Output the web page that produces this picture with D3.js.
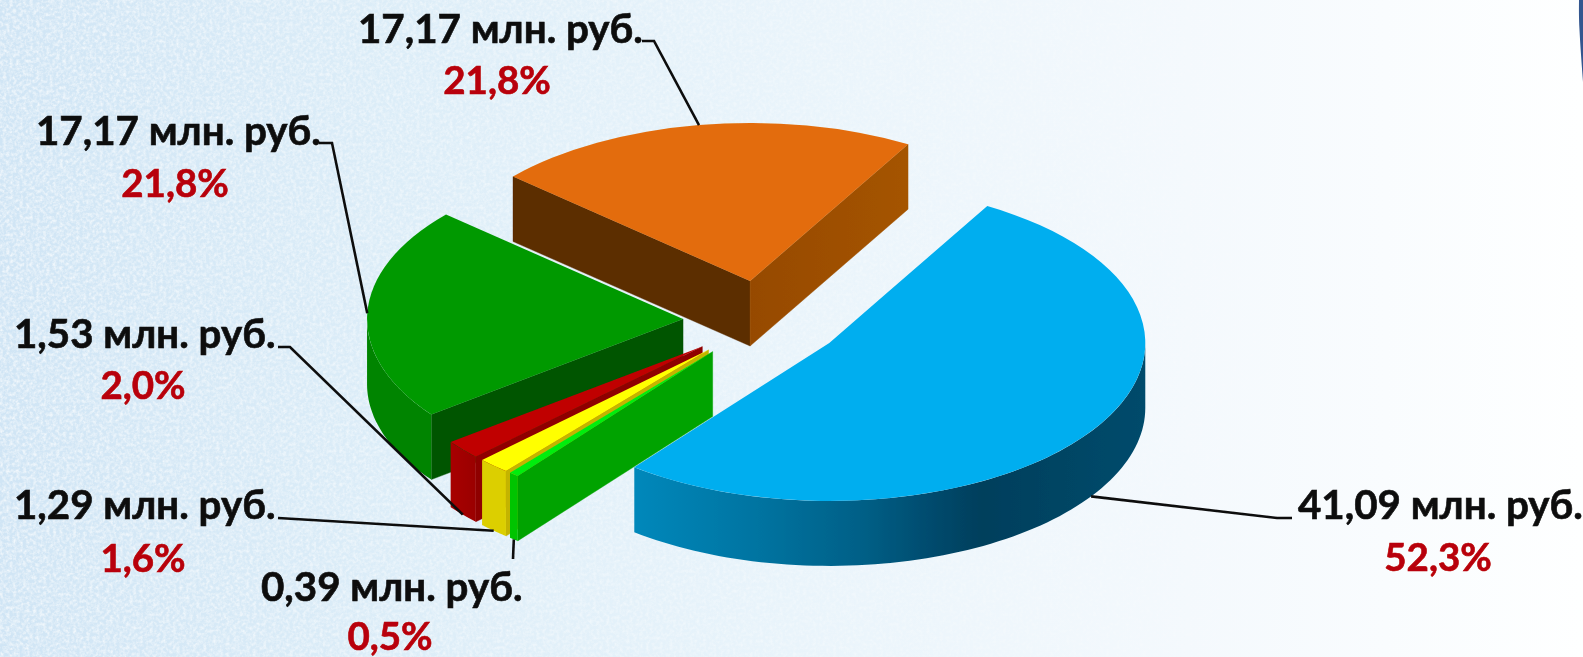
<!DOCTYPE html>
<html><head><meta charset="utf-8">
<script src="https://cdn.jsdelivr.net/npm/d3@7"></script>
<style>html,body{margin:0;padding:0;background:#fff;overflow:hidden}svg{display:block}text{font-family:Lato,"Open Sans","Noto Sans",sans-serif;font-weight:700}</style>
</head><body><div id="c"></div>
<script>
// ---- data ----
const moneyLabels = ["41,09 млн. руб.","0,39 млн. руб.","1,29 млн. руб.","1,53 млн. руб.","17,17 млн. руб.","17,17 млн. руб."];
const percentLabels = ["52,3%","0,5%","1,6%","2,0%","21,8%","21,8%"];
const values = [41.09,0.39,1.29,1.53,17.17,17.17];
// ---- styles ----
const topColors  = ["#00aeef","#00ee10","#ffff00","#c00000","#009900","#e36c09"];
const rimColors  = ["url(#blueRim)","#00c400","#dccf00","url(#redRim)","#008400","#9d4f02"];
const wallColors = ["#004060","#00a300","#c4b400","#8f0000","#005400","#5c2d00"];
const endWallColors = ["#004060","#00a300","#c4b400","#8f0000","#005400","url(#orangeWall)"];
// ---- layout of labels ----
const labelLayout = [
 {mx:1298,my:519,px:1438,py:571,elbow:[[1292,518],[1277,518]]},
 {mx:261,my:601,px:390,py:650,elbow:[[513,559]]},
 {mx:14,my:519,px:143,py:572,elbow:[[278,518]]},
 {mx:14,my:348,px:143,py:399,elbow:[[278,347],[290,347]]},
 {mx:36,my:145,px:175,py:197,elbow:[[319,143],[332,143]]},
 {mx:358,my:43,px:497,py:94,elbow:[[642,41],[654,41]]}
];
const W=1583,H=657, CX=763, CY=320.5, RX=316, TILT=0.5, DEPTH=65, EXPLODE=80, FONT=40.3, PFONT=38.5;

const svg=d3.select("#c").append("svg").attr("width",W).attr("height",H);
const defs=svg.append("defs");
function grad(id,x1,x2,stops){
  const g=defs.append("linearGradient").attr("id",id).attr("gradientUnits","userSpaceOnUse")
    .attr("x1",x1).attr("x2",x2).attr("y1",0).attr("y2",0);
  stops.forEach(s=>g.append("stop").attr("offset",s[0]).attr("stop-color",s[1]));
}
grad("bg",0,W,[[0,"#d0e5f5"],[0.25,"#dcedf8"],[0.5,"#e9f4fb"],[0.75,"#f4f9fd"],[1,"#feffff"]]);
grad("blueRim",634,1146,[[0,"#0088bb"],[0.25,"#0073a0"],[0.45,"#005f86"],[0.6,"#00486a"],[0.68,"#003f5c"],[1,"#004b6c"]]);
grad("redRim",450,480,[[0,"#a80000"],[1,"#980000"]]);
grad("orangeWall",750,909,[[0,"#964a00"],[1,"#a55404"]]);
const noise=defs.append("filter").attr("id","paper").attr("x",0).attr("y",0).attr("width","100%").attr("height","100%");
noise.append("feTurbulence").attr("type","fractalNoise").attr("baseFrequency",0.3).attr("numOctaves",3).attr("seed",4);
noise.append("feColorMatrix").attr("values","0 0 0 0 1  0 0 0 0 1  0 0 0 0 1  2 0 0 0 -0.7");
const mg=defs.append("linearGradient").attr("id","fade").attr("gradientUnits","userSpaceOnUse").attr("x1",0).attr("x2",W).attr("y1",0).attr("y2",0);
mg.append("stop").attr("offset",0).attr("stop-color","#fff");
mg.append("stop").attr("offset",0.85).attr("stop-color","#222");
defs.append("mask").attr("id","fadeMask").append("rect").attr("width",W).attr("height",H).attr("fill","url(#fade)");
defs.append("filter").attr("id","soft").attr("x","-5%").attr("y","-5%").attr("width","110%").attr("height","110%")
  .append("feGaussianBlur").attr("stdDeviation",0.45);

svg.append("rect").attr("width",W).attr("height",H).attr("fill","url(#bg)");
svg.append("g").attr("mask","url(#fadeMask)").append("rect").attr("width",W).attr("height",H).attr("filter","url(#paper)").attr("opacity",0.7);
svg.append("path").attr("d",d3.line().curve(d3.curveNatural)([[1579,0],[1579.5,30],[1583,82]])+"L1583,0Z").attr("fill","#33568f");

const pie=d3.pie().sort(null).startAngle(Math.PI/6).endAngle(Math.PI/6+2*Math.PI);
const slices=pie(values).map((d,i)=>{
  const mid=(d.startAngle+d.endAngle)/2;
  return Object.assign(d,{i,mid,cx:CX+EXPLODE*Math.sin(mid),cy:CY-EXPLODE*Math.cos(mid)*TILT});
});
const pt=(s,a,dz=0)=>[s.cx+RX*Math.sin(a),s.cy-RX*TILT*Math.cos(a)+dz];
const line=d3.line();
const arcTop=d3.arc().innerRadius(0).outerRadius(RX);

function wall(g,s,a,fill){
  const p=pt(s,a);
  g.append("path").attr("d",line([[s.cx,s.cy],p,[p[0],p[1]+DEPTH],[s.cx,s.cy+DEPTH]])+"Z").attr("fill",fill).attr("stroke",fill).attr("stroke-width",0.4);
}
// painter's order: back slices first, the large front slice last
const order=[5,4,3,2,1,0];
const chart=svg.append("g").attr("filter","url(#soft)");
order.forEach(k=>{
  const s=slices[k], g=chart.append("g");
  if(Math.sin(s.startAngle)<0) wall(g,s,s.startAngle,wallColors[k]);
  if(Math.sin(s.endAngle)>0) wall(g,s,s.endAngle,endWallColors[k]);
  const a0=Math.max(s.startAngle,Math.PI/2), a1=Math.min(s.endAngle,3*Math.PI/2);
  if(a1>a0){
    const as=d3.range(0,81).map(t=>a0+(a1-a0)*t/80);
    const up=as.map(a=>pt(s,a)), dn=as.map(a=>pt(s,a,DEPTH)).reverse();
    g.append("path").attr("d",line(up.concat(dn))+"Z").attr("fill",rimColors[k]);
  }
  g.append("path").attr("transform",`translate(${s.cx},${s.cy}) scale(1,${TILT})`)
    .attr("d",arcTop({startAngle:s.startAngle,endAngle:s.endAngle})).attr("fill",topColors[k]);
});

// leader lines run to the rim at each slice's mid-angle
const leaders=svg.append("g").attr("filter","url(#soft)");
slices.forEach((s,i)=>{
  const front=Math.cos(s.mid)<0;
  const end=pt(s,s.mid,front?DEPTH:0);
  leaders.append("path").attr("d",line(labelLayout[i].elbow.concat([end])))
    .attr("fill","none").attr("stroke","#111").attr("stroke-width",2.6);
});
const texts=svg.append("g").attr("filter","url(#soft)");
slices.forEach((s,i)=>{
  const l=labelLayout[i];
  texts.append("text").attr("x",l.mx).attr("y",l.my).attr("font-size",FONT).attr("fill","#0a0a0a").attr("stroke","#0a0a0a").attr("stroke-width",0.6).text(moneyLabels[i]);
  texts.append("text").attr("x",l.px).attr("y",l.py).attr("text-anchor","middle").attr("font-size",PFONT).attr("fill","#b80008").attr("stroke","#b80008").attr("stroke-width",0.6).text(percentLabels[i]);
});
</script></body></html>
